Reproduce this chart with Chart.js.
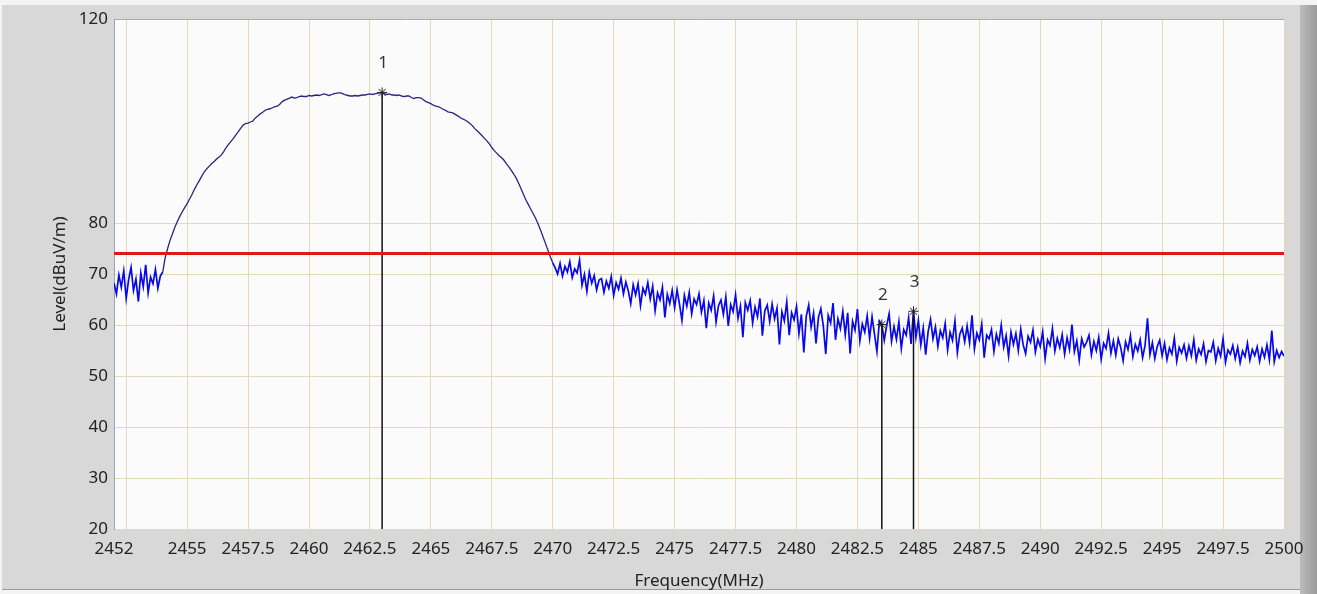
<!DOCTYPE html>
<html>
<head>
<meta charset="utf-8">
<title>Spectrum</title>
<script src="https://cdn.jsdelivr.net/npm/chart.js@4.4.1/dist/chart.umd.min.js"></script>
<style>
  html, body { margin: 0; padding: 0; background: #f4f4f4; overflow: hidden; }
  #frame { position: absolute; left: 2px; top: 5px; width: 1298px; height: 584px; background: #d8d8d8; border-bottom: 1px solid #9c9c9c; }
  #rbar { position: absolute; left: 1300px; top: 5px; width: 17px; height: 589px; background: linear-gradient(to right, #bdbdbd, #9a9a9a); }
  #wrap { position: absolute; left: 0; top: 0; width: 1317px; height: 594px; }
</style>
</head>
<body>
<div id="frame"></div>
<div id="rbar"></div>
<div id="wrap"><canvas id="spectrum"></canvas></div>
<script>
// sweep: 2452 .. 2500 MHz, one reading every 0.1 MHz
const freqStart = 2452;
const freqStep = 0.1;
const levels = [
  68.2, 66.1, 69.8, 67.4, 70.6, 65.2, 68.9, 71.3, 66.8, 69.0, // 2452
  64.6, 70.2, 67.5, 71.8, 66.3, 69.4, 68.1, 70.9, 67.2, 69.6, // 2453
  70.4, 73.2, 75.0, 76.6, 77.9, 79.2, 80.3, 81.3, 82.2, 83.0, // 2454
  83.8, 84.7, 85.6, 86.6, 87.5, 88.3, 89.2, 90.0, 90.6, 91.1, // 2455
  91.6, 92.0, 92.5, 92.9, 93.3, 94.0, 94.8, 95.4, 96.0, 96.6, // 2456
  97.3, 97.9, 98.6, 99.2, 99.5, 99.6, 99.8, 100.0, 100.6, 101.0, // 2457
  101.4, 101.7, 102.1, 102.3, 102.4, 102.6, 102.8, 102.9, 103.3, 103.8, // 2458
  104.1, 104.3, 104.5, 104.7, 104.5, 104.6, 104.8, 104.9, 104.8, 104.8, // 2459
  105.0, 104.9, 105.0, 105.1, 105.0, 105.1, 105.3, 105.2, 105.0, 105.1, // 2460
  105.3, 105.4, 105.5, 105.5, 105.3, 105.1, 105.0, 104.9, 104.9, 105.0, // 2461
  104.9, 105.0, 105.1, 105.1, 105.2, 105.3, 105.2, 105.3, 105.4, 105.5, // 2462
  105.6, 105.3, 105.2, 105.3, 105.1, 105.1, 105.0, 105.1, 104.9, 104.8, // 2463
  104.9, 104.9, 104.6, 104.4, 104.6, 104.6, 104.5, 104.1, 103.8, 103.6, // 2464
  103.4, 103.1, 102.9, 102.8, 102.6, 102.3, 102.1, 101.8, 101.7, 101.6, // 2465
  101.3, 101.0, 100.7, 100.4, 100.2, 99.9, 99.5, 99.1, 98.5, 98.1, // 2466
  97.6, 97.1, 96.6, 96.1, 95.5, 94.8, 94.2, 93.7, 93.2, 92.8, // 2467
  92.3, 91.6, 91.0, 90.3, 89.6, 88.8, 87.8, 86.7, 85.6, 84.5, // 2468
  83.6, 82.7, 81.8, 80.9, 79.8, 78.6, 77.3, 76.0, 74.7, 73.4, // 2469
  72.2, 71.2, 70.0, 72.1, 69.6, 71.5, 70.4, 72.4, 69.3, 71.0, // 2470
  70.2, 72.7, 67.8, 69.9, 66.6, 70.4, 68.2, 69.7, 66.9, 68.8, // 2471
  69.1, 66.4, 68.6, 67.2, 69.5, 65.8, 68.3, 67.0, 69.2, 66.1, // 2472
  68.4, 66.7, 64.2, 67.9, 65.9, 68.1, 63.8, 67.2, 66.0, 68.3, // 2473
  65.1, 67.6, 62.8, 66.3, 64.9, 67.4, 61.5, 66.0, 64.2, 66.8, // 2474
  63.4, 66.9, 64.1, 60.9, 65.8, 63.7, 66.4, 62.2, 65.1, 64.0, // 2475
  66.1, 62.5, 64.8, 59.4, 64.3, 62.9, 65.7, 60.6, 63.8, 64.9, // 2476
  62.1, 65.5, 59.8, 64.0, 62.6, 65.9, 61.3, 63.7, 57.6, 64.4, // 2477
  62.9, 64.8, 60.4, 63.5, 61.6, 65.2, 57.9, 62.8, 63.9, 60.7, // 2478
  64.1, 61.2, 63.3, 56.2, 62.6, 60.8, 64.5, 58.0, 62.4, 61.0, // 2479
  63.6, 58.3, 62.1, 54.6, 61.7, 63.9, 59.6, 62.3, 56.4, 61.5, // 2480
  63.2, 59.8, 54.3, 61.9, 60.4, 64.3, 57.1, 61.2, 59.3, 62.7, // 2481
  58.1, 62.4, 54.4, 60.7, 59.0, 63.1, 56.9, 60.2, 58.6, 61.8, // 2482
  57.4, 61.6, 58.2, 54.8, 60.8, 60.1, 57.0, 59.9, 62.2, 56.8, // 2483
  59.7, 57.2, 60.6, 55.4, 59.1, 58.0, 61.4, 56.3, 62.7, 57.6, // 2484
  60.9, 56.1, 59.4, 54.2, 58.7, 61.1, 57.3, 59.6, 55.8, 58.9, // 2485
  57.5, 60.3, 55.1, 58.6, 57.0, 60.8, 54.6, 58.2, 59.4, 56.7, // 2486
  59.8, 56.5, 61.9, 55.3, 58.4, 57.1, 60.2, 53.6, 58.0, 57.3, // 2487
  59.1, 54.8, 58.2, 56.4, 60.0, 55.7, 57.9, 53.9, 58.6, 56.2, // 2488
  58.3, 55.0, 59.2, 56.1, 54.4, 57.8, 56.6, 59.0, 54.7, 57.2, // 2489
  55.8, 58.7, 53.4, 57.1, 56.0, 59.3, 54.9, 57.4, 55.6, 58.1, // 2490
  54.3, 57.5, 55.2, 60.1, 54.8, 56.9, 53.1, 57.3, 55.7, 56.6, // 2491
  58.0, 54.2, 56.8, 55.0, 57.6, 53.3, 56.4, 55.4, 58.4, 54.5, // 2492
  56.9, 54.1, 57.3, 55.6, 53.0, 56.7, 55.2, 57.9, 53.8, 56.2, // 2493
  54.9, 57.1, 53.6, 56.0, 61.3, 54.2, 56.5, 53.4, 55.8, 57.0, // 2494
  54.0, 56.4, 53.2, 55.5, 54.3, 57.4, 52.9, 55.6, 54.5, 56.1, // 2495
  53.5, 55.9, 54.0, 57.1, 53.1, 55.3, 54.2, 56.3, 52.8, 55.0, // 2496
  54.7, 56.6, 53.0, 55.4, 53.9, 57.3, 52.7, 55.1, 54.3, 56.0, // 2497
  53.4, 55.6, 52.6, 54.9, 53.8, 56.4, 53.1, 55.2, 54.0, 55.7, // 2498
  52.9, 55.3, 53.7, 56.1, 53.2, 58.9, 52.8, 55.0, 53.6, 54.8, // 2499
  53.9                                                        // 2500
];

const limitLevel = 74;
const markerNames = ['1', '2', '3'];
const markerFreq = [2463.0, 2483.5, 2484.8];
const markerLevel = [105.6, 60.1, 62.7];

const xTicks = [2452, 2452.5, 2455, 2457.5, 2460, 2462.5, 2465, 2467.5, 2470, 2472.5, 2475,
  2477.5, 2480, 2482.5, 2485, 2487.5, 2490, 2492.5, 2495, 2497.5, 2500];
const xTicksHidden = [2452.5];
const yTicks = [20, 30, 40, 50, 60, 70, 80, 120];

const trace = levels.map((v, i) => ({ x: +(freqStart + i * freqStep).toFixed(1), y: v }));

const plotBackground = {
  id: 'plotBackground',
  beforeDraw(chart) {
    const { ctx, chartArea: a } = chart;
    ctx.save();
    ctx.fillStyle = '#fbfbfb';
    ctx.fillRect(a.left, a.top, a.right - a.left, a.bottom - a.top);
    ctx.restore();
  },
};

const markerLabels = {
  id: 'markerLabels',
  afterDatasetsDraw(chart) {
    const { ctx, scales } = chart;
    ctx.save();
    ctx.font = '17px "Noto Sans"';
    ctx.fillStyle = '#333';
    ctx.textAlign = 'center';
    ctx.textBaseline = 'middle';
    markerNames.forEach((name, i) => {
      ctx.fillText(name, scales.x.getPixelForValue(markerFreq[i]) + 1, scales.y.getPixelForValue(markerLevel[i]) - 29);
    });
    ctx.restore();
  },
};

const markerSets = markerNames.map((name, i) => ({
  label: 'Marker ' + name,
  data: [{ x: markerFreq[i], y: 20 }, { x: markerFreq[i], y: markerLevel[i] }],
  borderColor: '#111',
  borderWidth: 1.5,
  pointRadius: [0, 5],
  pointStyle: 'star',
  pointBorderColor: '#222',
  pointBorderWidth: 1,
  order: 1,
}));

new Chart(document.getElementById('spectrum'), {
  type: 'line',
  data: {
    datasets: [
      {
        label: 'Limit',
        data: [{ x: 2452, y: limitLevel }, { x: 2500, y: limitLevel }],
        borderColor: '#dc1a1a',
        borderWidth: 3,
        pointRadius: 0,
        order: 0,
      },
      ...markerSets,
      {
        label: 'Level',
        data: trace,
        pointRadius: 0,
        tension: 0,
        order: 2,
        borderColor: '#0808e8',
        borderWidth: 1.7,
        segment: {
          borderColor: (c) => (c.p0.parsed.x >= 2454 && c.p0.parsed.x < 2470 ? '#26267e' : '#0808e8'),
          borderWidth: (c) => (c.p0.parsed.x >= 2454 && c.p0.parsed.x < 2470 ? 1.3 : 1.7),
        },
      },
    ],
  },
  options: {
    responsive: true,
    maintainAspectRatio: false,
    animation: false,
    layout: { padding: { top: 19, right: 33, bottom: 0, left: 0 } },
    plugins: { legend: { display: false }, tooltip: { enabled: false } },
    scales: {
      x: {
        type: 'linear',
        min: 2452,
        max: 2500,
        afterFit: (s) => { s.height = 65; },
        afterBuildTicks: (s) => { s.ticks = xTicks.map((v) => ({ value: v })); },
        ticks: {
          autoSkip: false,
          maxRotation: 0,
          minRotation: 0,
          padding: 10,
          color: '#222',
          font: { family: 'Noto Sans', size: 17 },
          callback: (v) => (xTicksHidden.includes(v) ? '' : String(v)),
        },
        grid: { color: '#e2dabb', drawTicks: false },
        border: { display: false },
        title: {
          display: true,
          text: 'Frequency(MHz)',
          color: '#222',
          font: { family: 'Noto Sans', size: 17 },
          padding: { top: 0, bottom: 3 },
        },
      },
      y: {
        min: 20,
        max: 120,
        afterFit: (s) => { s.width = 114; },
        afterBuildTicks: (s) => { s.ticks = yTicks.map((v) => ({ value: v })); },
        ticks: {
          padding: 6,
          color: '#222',
          font: { family: 'Noto Sans', size: 17 },
        },
        grid: {
          color: (c) => (c.tick && c.tick.value === 120 ? '#a9a9a9' : '#e2dabb'),
          drawTicks: false,
        },
        border: { color: '#9aa4b0', width: 1 },
        title: {
          display: true,
          text: 'Level(dBuV/m)',
          color: '#222',
          font: { family: 'Noto Sans', size: 17 },
          padding: { top: 50, bottom: 0 },
        },
      },
    },
  },
  plugins: [plotBackground, markerLabels],
});
</script>
</body>
</html>
